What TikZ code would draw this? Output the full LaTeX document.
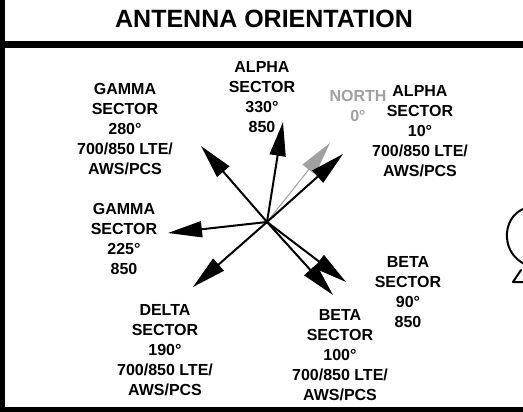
\documentclass[tikz,border=0pt]{standalone}
\usepackage{fontspec}
\setmainfont{Liberation Sans}
\usetikzlibrary{arrows.meta}
\definecolor{northgray}{HTML}{A0A0A0}
\begin{document}
\begin{tikzpicture}[x=1pt,y=-1pt,
  lbl/.style={font=\bfseries\fontsize{16}{20}\selectfont, align=center, inner sep=0pt, anchor=north},
  arr/.style={line width=2pt, -{Triangle[length=34pt,width=16pt]}},
  northarr/.style={line width=1pt, draw=northgray, -{Triangle[length=34pt,width=16pt,fill=northgray]}},
  frame/.style={fill=black}]
\useasboundingbox (0,0) rectangle (523,412);
\fill[white] (0,0) rectangle (523,412);
% frame
\fill[frame] (0,0) rectangle (5,412);
\fill[frame] (0,41) rectangle (523,48);
\fill[frame] (0,407) rectangle (523,412);
% title
\node[font=\bfseries\fontsize{25}{30}\selectfont, inner sep=0pt] (title) at (264,19) {ANTENNA ORIENTATION};
% arrows
\coordinate (c) at (267,222);
\coordinate (tnorth) at (330,143);
\coordinate (t330) at (283,122);
\coordinate (t10) at (343,154);
\coordinate (t280) at (201,146);
\coordinate (t225) at (168,233);
\coordinate (t190) at (193,287);
\coordinate (t100) at (333,295);
\coordinate (t90) at (346,282);
\draw[northarr] (c) -- (tnorth);
\draw[arr] (c) -- (t330);
\draw[arr] (c) -- (t10);
\draw[arr] (c) -- (t280);
\draw[arr] (c) -- (t225);
\draw[arr] (c) -- (t190);
\draw[arr] (c) -- (t100);
\draw[arr] (c) -- (t90);
% labels
\node[lbl] (l330) at (262,61) {ALPHA\\SECTOR\\330°\\850};
\node[lbl] (l280) at (125,83) {GAMMA\\SECTOR\\280°\\700/850 LTE/\\AWS/PCS};
\node[lbl] (l225) at (124,203) {GAMMA\\SECTOR\\225°\\850};
\node[lbl, text=northgray] (lnorth) at (358,90) {NORTH\\0°};
\node[lbl] (l10) at (420,85) {ALPHA\\SECTOR\\10°\\700/850 LTE/\\AWS/PCS};
\node[lbl] (l90) at (408,256) {BETA\\SECTOR\\90°\\850};
\node[lbl] (l190) at (165,304) {DELTA\\SECTOR\\190°\\700/850 LTE/\\AWS/PCS};
\node[lbl] (l100) at (340,309) {BETA\\SECTOR\\100°\\700/850 LTE/\\AWS/PCS};
% partial sketch at right edge
\draw[line width=2pt, line cap=round] (526,208) .. controls (512,212) and (506,226) .. (507,238)
  .. controls (508,250) and (514,258) .. (524,264);
\draw[line width=2pt, line cap=round, line join=round] (521,270) -- (513,282) -- (526,282);
\end{tikzpicture}
\end{document}
